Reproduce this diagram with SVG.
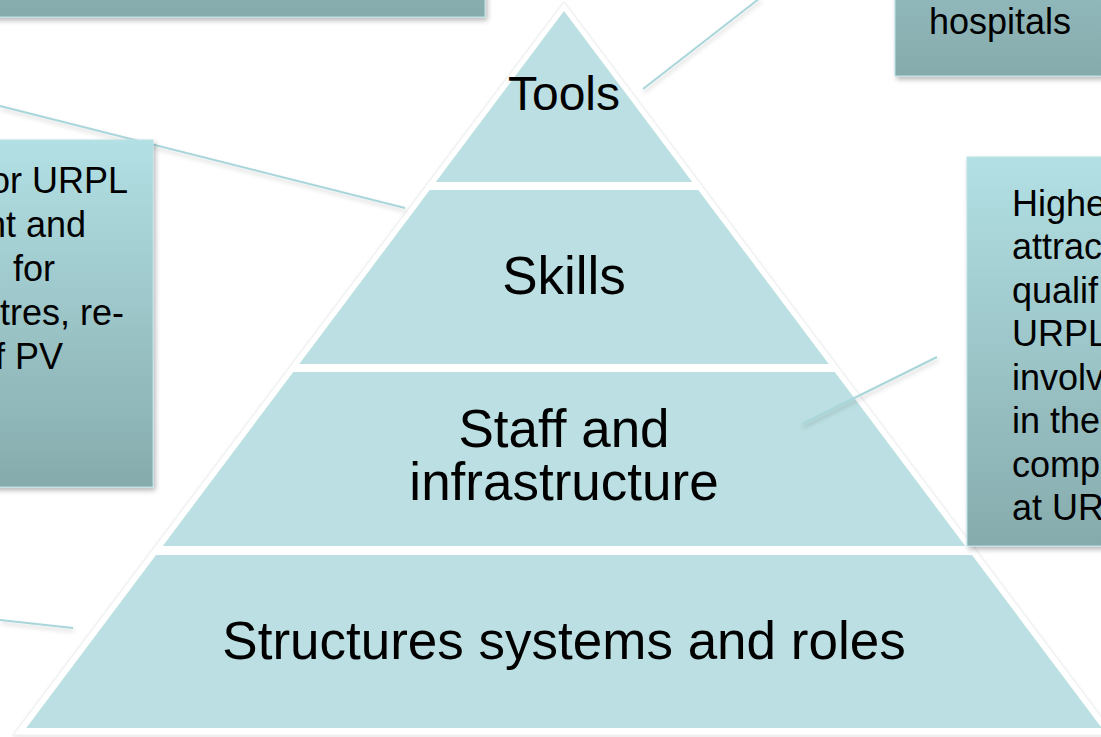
<svg xmlns="http://www.w3.org/2000/svg" width="1101" height="737" viewBox="0 0 1101 737">
  <defs>
    <linearGradient id="boxFill" x1="0" y1="0" x2="0" y2="1">
      <stop offset="0" stop-color="#b2e0e4"/>
      <stop offset="1" stop-color="#86abad"/>
    </linearGradient>
    <filter id="boxShadow" x="-10%" y="-10%" width="130%" height="130%">
      <feDropShadow dx="2" dy="3" stdDeviation="2.5" flood-color="#000" flood-opacity="0.28"/>
    </filter>
    <filter id="edgeShadow" x="-5%" y="-5%" width="110%" height="110%">
      <feDropShadow dx="0" dy="1" stdDeviation="1.5" flood-color="#000" flood-opacity="0.12"/>
    </filter>
    <filter id="lineShadow" x="-10%" y="-50%" width="120%" height="200%">
      <feDropShadow dx="1" dy="3" stdDeviation="2" flood-color="#000" flood-opacity="0.18"/>
    </filter>
  </defs>
  <style>
    .band { fill: #bbdfe2; }
    .label { font-family: "Liberation Sans", Arial, sans-serif; font-size: 53px; fill: #000; text-anchor: middle; }
    .box { fill: url(#boxFill); stroke: #b9e2e5; stroke-width: 1; filter: url(#boxShadow); }
    .boxText { font-family: "Liberation Sans", Arial, sans-serif; font-size: 36px; fill: #000; }
    .link { stroke: #a8d6da; stroke-width: 2; fill: none; stroke-linecap: butt; }
  </style>

  <rect width="1101" height="737" fill="#ffffff"/>

  <!-- pyramid frame -->
  <g id="pyramid-frame">
    <polygon points="564,2 1115,735 13,735" fill="#ffffff" stroke="#ececec" stroke-width="1" filter="url(#edgeShadow)"/>
  </g>

  <!-- pyramid levels -->
  <g id="level-tools">
    <polygon class="band" points="564,11 692.25,182 435.75,182"/>
    <text class="label" x="564" y="110" style="font-size:48px">Tools</text>
  </g>
  <g id="level-skills">
    <polygon class="band" points="429.75,190 698.25,190 828.75,364 299.25,364"/>
    <text class="label" x="564" y="294">Skills</text>
  </g>
  <g id="level-staff">
    <polygon class="band" points="293.25,372 834.75,372 965.25,546 162.75,546"/>
    <text class="label" x="564" y="447">Staff and</text>
    <text class="label" x="564" y="500">infrastructure</text>
  </g>
  <g id="level-structures">
    <polygon class="band" points="156,555 972,555 1101.75,728 26.25,728"/>
    <text class="label" x="564" y="659">Structures systems and roles</text>
  </g>

  <!-- connectors -->
  <g id="connectors" filter="url(#lineShadow)">
    <line class="link" x1="0" y1="106" x2="405" y2="208"/>
    <line class="link" x1="643" y1="89" x2="760" y2="-2"/>
    <line class="link" x1="937" y1="357" x2="802" y2="424"/>
    <line class="link" x1="0" y1="620" x2="73" y2="628"/>
  </g>

  <!-- callout boxes -->
  <g id="box-top-left">
    <rect class="box" x="-20" y="-330" width="505" height="347"/>
  </g>
  <g id="box-top-right">
    <rect class="box" x="895" y="-270" width="230" height="346"/>
    <text class="boxText" x="929" y="34">hospitals</text>
  </g>
  <g id="box-left">
    <rect class="box" x="-20" y="140" width="173" height="347"/>
    <text class="boxText" text-anchor="end" x="128" y="193">or URPL</text>
    <text class="boxText" text-anchor="end" x="86" y="237">nt and</text>
    <text class="boxText" text-anchor="end" x="55" y="281">for</text>
    <text class="boxText" text-anchor="end" x="124" y="325">tres, re-</text>
    <text class="boxText" text-anchor="end" x="63" y="369">f PV</text>
  </g>
  <g id="box-right">
    <rect class="box" x="967" y="157" width="160" height="389"/>
    <text class="boxText" x="1012" y="216">Highe</text>
    <text class="boxText" x="1012" y="259">attrac</text>
    <text class="boxText" x="1012" y="303">qualif</text>
    <text class="boxText" x="1012" y="346">URPL</text>
    <text class="boxText" x="1012" y="390">involv</text>
    <text class="boxText" x="1012" y="433">in the</text>
    <text class="boxText" x="1012" y="477">comp</text>
    <text class="boxText" x="1012" y="520">at UR</text>
  </g>
</svg>
